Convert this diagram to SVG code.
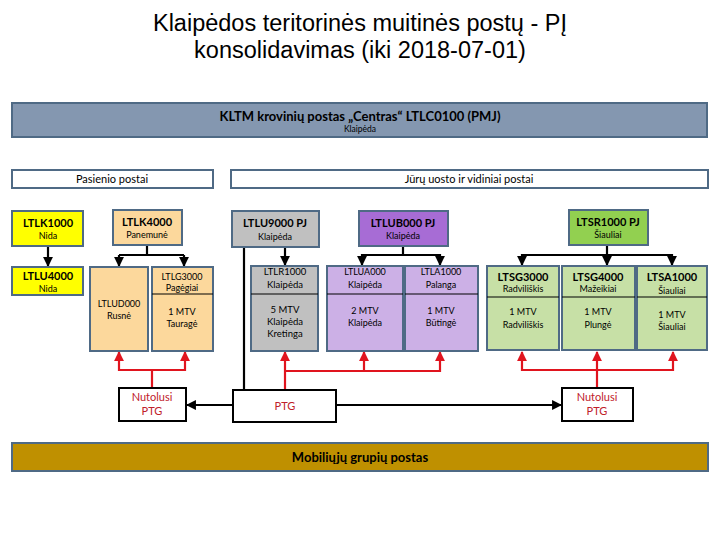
<svg xmlns="http://www.w3.org/2000/svg" width="720" height="540" viewBox="0 0 720 540">
<defs>
<style>
text{font-family:Lato,"Liberation Sans",sans-serif;text-anchor:middle;fill:#000}
.title{font-family:"Liberation Sans",Arial,sans-serif;font-size:23.5px}
.n{stroke:#4f6a85;stroke-width:2}
.h{font-size:11px;font-weight:bold}
.s{font-size:9px}
.m{font-size:9.5px}
.div{stroke:#000;stroke-width:1.2}
.yel{fill:#ffff00}.tan{fill:#fcd89c}.gry{fill:#c0c0c0}.pur{fill:#a76cd5}.lpur{fill:#ccb0e6}.grn{fill:#92d050}.lgrn{fill:#c7e0a6}
.blk{stroke:#000;stroke-width:2.2;fill:none}
.red{stroke:#e0141e;stroke-width:2.2;fill:none}
.ptg{fill:#fff;stroke:#000;stroke-width:2}
.rt{fill:#c0202a;font-size:11px}
</style>
<marker id="ab" viewBox="0 0 10 10" refX="9" refY="5" markerWidth="4.5" markerHeight="4.5" orient="auto"><path d="M0,0L10,5L0,10z" fill="#000"/></marker>
<marker id="ar" viewBox="0 0 10 10" refX="9" refY="5" markerWidth="4.5" markerHeight="4.5" orient="auto"><path d="M0,0L10,5L0,10z" fill="#e0141e"/></marker>
</defs>
<rect width="720" height="540" fill="#fff"/>
<text class="title" x="360" y="31">Klaipėdos teritorinės muitinės postų - PĮ</text>
<text class="title" x="360" y="58">konsolidavimas (iki 2018-07-01)</text>

<g id="kltm"><rect x="12" y="103" width="695" height="34" fill="#8497b0" class="n"/>
<text x="360" y="121" style="font-size:13px;font-weight:bold">KLTM krovinių postas „Centras“ LTLC0100 (PMJ)</text>
<text x="360" y="132" style="font-size:8.5px">Klaipėda</text></g>

<g id="pasienio"><rect x="12" y="170" width="201" height="18" fill="#fff" class="n"/><text x="112" y="183" style="font-size:11px">Pasienio postai</text></g>
<g id="juru"><rect x="231" y="170" width="477" height="18" fill="#fff" class="n"/><text x="469" y="183" style="font-size:11px">Jūrų uosto ir vidiniai postai</text></g>

<g id="connectors">
<path class="blk" d="M48,246V266" marker-end="url(#ab)"/>
<path class="blk" d="M147,245V255M119,255H184"/>
<path class="blk" d="M119,255V266" marker-end="url(#ab)"/><path class="blk" d="M184,255V266" marker-end="url(#ab)"/>
<path class="blk" d="M285,247V265" marker-end="url(#ab)"/>
<path class="blk" d="M244,247V400" marker-end="url(#ab)"/>
<path class="blk" d="M403,246V255H362V265" marker-end="url(#ab)"/><path class="blk" d="M403,255H440V265" marker-end="url(#ab)"/>
<path class="blk" d="M607,245V265" marker-end="url(#ab)"/><path class="blk" d="M607,255H522V265" marker-end="url(#ab)"/><path class="blk" d="M607,255H672V265" marker-end="url(#ab)"/>
<path class="blk" d="M233,405H187" marker-end="url(#ab)"/>
<path class="blk" d="M336,405H561" marker-end="url(#ab)"/>
<path class="red" d="M152,388V370H119V352" marker-end="url(#ar)"/><path class="red" d="M152,370H185V352" marker-end="url(#ar)"/>
<path class="red" d="M285,390V352" marker-end="url(#ar)"/><path class="red" d="M285,371H364V352" marker-end="url(#ar)"/><path class="red" d="M364,371H440V352" marker-end="url(#ar)"/>
<path class="red" d="M597,388V352" marker-end="url(#ar)"/><path class="red" d="M597,370H522V352" marker-end="url(#ar)"/><path class="red" d="M597,370H673V352" marker-end="url(#ar)"/>
</g>

<g id="ltlk1000"><rect x="12" y="211" width="71" height="35" class="n yel"/><text class="h" x="48" y="227">LTLK1000</text><text class="s" x="48" y="239">Nida</text></g>
<g id="ltlk4000"><rect x="113" y="210" width="69" height="35" class="n tan"/><text class="h" x="147" y="226">LTLK4000</text><text class="s" x="147" y="238">Panemunė</text></g>
<g id="ltlu9000"><rect x="232" y="211" width="87" height="36" class="n gry"/><text class="h" x="275" y="227">LTLU9000 PJ</text><text class="s" x="275" y="240">Klaipėda</text></g>
<g id="ltlub000"><rect x="359" y="211" width="89" height="35" class="n pur"/><text class="h" x="403" y="227">LTLUB000 PJ</text><text class="s" x="403" y="239">Klaipėda</text></g>
<g id="ltsr1000"><rect x="569" y="210" width="79" height="35" class="n grn"/><text class="h" x="608" y="226">LTSR1000 PJ</text><text class="s" x="608" y="238">Šiauliai</text></g>

<g id="ltlu4000"><rect x="12" y="267" width="71" height="28" class="n yel"/><text class="h" x="48" y="280">LTLU4000</text><text class="s" x="48" y="292">Nida</text></g>
<g id="ltlud000"><rect x="90" y="267" width="58" height="84" class="n tan"/><text class="s" x="119" y="307">LTLUD000</text><text class="s" x="119" y="319">Rusnė</text></g>
<g id="ltlg3000"><rect x="152" y="267" width="61" height="84" class="n tan"/><line class="div" x1="152" y1="294" x2="213" y2="294"/><text class="s" x="182" y="280">LTLG3000</text><text class="s" x="182" y="291">Pagėgiai</text><text class="s" x="182" y="315">1 MTV</text><text class="s" x="182" y="327">Tauragė</text></g>
<g id="ltlr1000"><rect x="251" y="266" width="67" height="85" class="n gry"/><line class="div" x1="251" y1="294" x2="318" y2="294"/><text class="m" x="285" y="275">LTLR1000</text><text class="m" x="285" y="288">Klaipėda</text><text class="m" x="285" y="313">5 MTV</text><text class="m" x="285" y="325">Klaipėda</text><text class="m" x="285" y="337">Kretinga</text></g>
<g id="ltlua000"><rect x="327" y="266" width="76" height="85" class="n lpur"/><line class="div" x1="327" y1="294" x2="403" y2="294"/><text class="s" x="365" y="275">LTLUA000</text><text class="s" x="365" y="288">Klaipėda</text><text class="s" x="365" y="314">2 MTV</text><text class="s" x="365" y="326">Klaipėda</text></g>
<g id="ltla1000"><rect x="405" y="266" width="73" height="85" class="n lpur"/><line class="div" x1="405" y1="294" x2="478" y2="294"/><text class="s" x="441" y="275">LTLA1000</text><text class="s" x="441" y="288">Palanga</text><text class="s" x="441" y="314">1 MTV</text><text class="s" x="441" y="326">Būtingė</text></g>
<g id="ltsg3000"><rect x="487" y="266" width="72" height="84" class="n lgrn"/><line class="div" x1="487" y1="297" x2="559" y2="297"/><text class="h" x="523" y="281">LTSG3000</text><text class="s" x="523" y="292">Radviliškis</text><text class="s" x="523" y="315">1 MTV</text><text class="s" x="523" y="328">Radviliškis</text></g>
<g id="ltsg4000"><rect x="562" y="266" width="73" height="84" class="n lgrn"/><line class="div" x1="562" y1="297" x2="635" y2="297"/><text class="h" x="598" y="281">LTSG4000</text><text class="s" x="598" y="292">Mažeikiai</text><text class="s" x="598" y="315">1 MTV</text><text class="s" x="598" y="328">Plungė</text></g>
<g id="ltsa1000"><rect x="637" y="266" width="70" height="84" class="n lgrn"/><line class="div" x1="637" y1="297" x2="707" y2="297"/><text class="h" x="672" y="281">LTSA1000</text><text class="s" x="672" y="294">Šiauliai</text><text class="s" x="672" y="318">1 MTV</text><text class="s" x="672" y="330">Šiauliai</text></g>

<g id="nutolusi1"><rect x="119" y="388" width="67" height="33" class="ptg"/><text class="rt" x="152" y="401">Nutolusi</text><text class="rt" x="152" y="415">PTG</text></g>
<g id="ptg"><rect x="233" y="390" width="103" height="32" class="ptg"/><text class="rt" x="285" y="410">PTG</text></g>
<g id="nutolusi2"><rect x="562" y="388" width="71" height="33" class="ptg"/><text class="rt" x="597" y="401">Nutolusi</text><text class="rt" x="597" y="415">PTG</text></g>

<g id="mobiliuju"><rect x="12" y="443" width="696" height="28" fill="#bf9000" class="n"/><text x="360" y="462" style="font-size:13px;font-weight:bold">Mobiliųjų grupių postas</text></g>
</svg>
